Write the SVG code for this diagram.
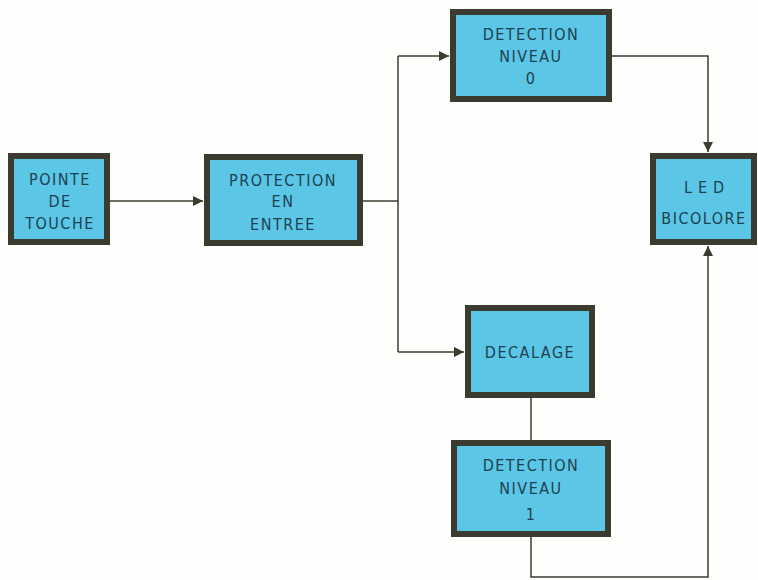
<svg xmlns="http://www.w3.org/2000/svg" width="758" height="580" viewBox="0 0 758 580">
<defs>
<style>
.box{fill:#5cc6e6;stroke:#3b3b30;stroke-width:6}
.t{font-family:"DejaVu Sans Condensed","DejaVu Sans",sans-serif;font-size:16px;fill:#1d4250;text-anchor:middle;letter-spacing:1.5px}
.w{fill:none;stroke:#3b3b30;stroke-width:1.5}
</style>
<marker id="a" viewBox="0 0 10 10" refX="10" refY="5" markerWidth="14" markerHeight="10" markerUnits="userSpaceOnUse" orient="auto"><path d="M0,0L10,5L0,10z" fill="#3b3b30"/></marker>
</defs>
<rect width="758" height="580" fill="#fefefc"/>
<g id="connectors">
<path class="w" d="M110,201H203" marker-end="url(#a)"/>
<path class="w" d="M363,201H398"/>
<path class="w" d="M398,56V352"/>
<path class="w" d="M398,56H449" marker-end="url(#a)"/>
<path class="w" d="M398,352H464" marker-end="url(#a)"/>
<path class="w" d="M612,56H708V152" marker-end="url(#a)"/>
<path class="w" d="M531,398V440"/>
<path class="w" d="M531,537V577H708V246" marker-end="url(#a)"/>
</g>
<g id="pointe">
<rect class="box" x="11" y="156" width="96" height="86"/>
<text class="t" x="60" y="185">POINTE</text>
<text class="t" x="60" y="207">DE</text>
<text class="t" x="60" y="229">TOUCHE</text>
</g>
<g id="protection">
<rect class="box" x="207" y="157" width="153" height="86"/>
<text class="t" x="283" y="186">PROTECTION</text>
<text class="t" x="283" y="207">EN</text>
<text class="t" x="283" y="230">ENTREE</text>
</g>
<g id="detection0">
<rect class="box" x="453" y="12" width="156" height="87"/>
<text class="t" x="531" y="40">DETECTION</text>
<text class="t" x="531" y="62">NIVEAU</text>
<text class="t" x="531" y="84">0</text>
</g>
<g id="led">
<rect class="box" x="653" y="156" width="101" height="86"/>
<text class="t" x="707" y="193" style="letter-spacing:6px">LED</text>
<text class="t" x="704" y="224">BICOLORE</text>
</g>
<g id="decalage">
<rect class="box" x="468" y="308" width="124" height="87"/>
<text class="t" x="530" y="358">DECALAGE</text>
</g>
<g id="detection1">
<rect class="box" x="454" y="443" width="154" height="91"/>
<text class="t" x="531" y="471">DETECTION</text>
<text class="t" x="531" y="494">NIVEAU</text>
<text class="t" x="531" y="520">1</text>
</g>
</svg>
